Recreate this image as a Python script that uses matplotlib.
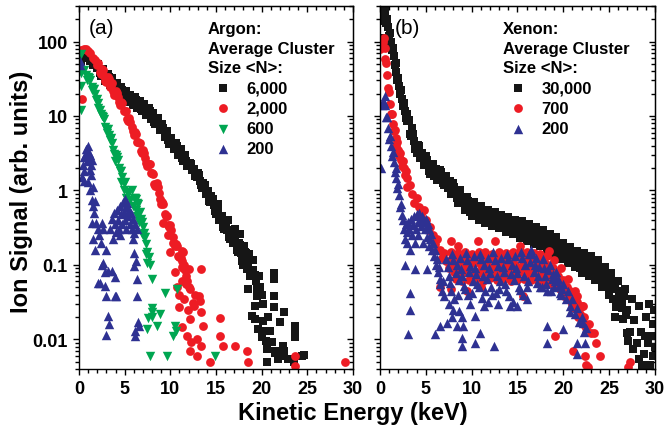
import matplotlib
matplotlib.use("Agg")
import matplotlib.pyplot as plt
from matplotlib.ticker import MultipleLocator, FixedLocator, FixedFormatter, LogLocator, NullFormatter

plt.rcParams["font.family"] = ["Liberation Sans", "DejaVu Sans"]
plt.rcParams["font.weight"] = "bold"

# ---------------- panel (a): argon ----------------
ar6000_x = [0.25, 0.5, 0.75, 1.0, 1.25, 1.5, 1.75, 2.0, 2.25, 2.5, 2.75, 3.0, 3.25, 3.5, 3.75, 4.0,
            4.25, 4.5, 4.75, 5.0, 5.25, 5.5, 5.75, 6.0, 6.25, 6.5, 6.75, 7.0, 7.25, 7.5, 7.75, 8.0,
            8.25, 8.5, 8.75, 9.0, 9.25, 9.5, 9.75, 10.0, 10.25, 10.5, 10.75, 11.0, 11.25, 11.5, 11.75,
            12.0, 12.25, 12.5, 12.75, 13.0, 13.25, 13.5, 13.75, 14.0, 14.25, 14.5, 14.75, 15.0, 15.25,
            15.5, 15.75, 16.0, 16.25, 16.5, 16.75, 17.0, 17.25, 17.5, 17.75, 18.0, 18.25, 18.5, 18.75,
            19.0, 19.25, 19.5, 19.75, 20.0,
            15.2, 16.3, 17.1, 17.6, 18.1, 18.6, 19.1, 19.4, 19.8, 20.2, 18.5, 18.9, 19.3, 19.5, 19.3,
            19.6, 20.0, 20.2, 20.27, 20.5, 20.55, 20.55, 21.1, 21.5, 21.5, 21.8, 21.36, 21.36, 21.36,
            21.36, 22.4, 22.0, 23.66, 23.66, 23.66, 22.4, 22.0, 22.2, 23.5, 24.4, 24.6, 22.3, 22.2,
            22.9, 20.7, 20.9]
ar6000_y = [55, 62, 60, 62, 55, 49, 52, 44.7, 38, 41.7, 35.5, 30, 33.9, 28.8, 24.5, 27.5,
            23.4, 20, 22.4, 19.5, 16.6, 18.6, 16.4, 14.5, 16.6, 14.5, 12.5, 14.1, 12.3, 10.6, 11.7, 10,
            8.4, 9.3, 7.8, 6.5, 7.0, 5.75, 4.7, 5.0, 4.3, 3.6, 4.0, 3.3, 2.75, 3.0, 2.5,
            2.1, 2.3, 1.9, 1.55, 1.74, 1.36, 1.07, 1.19, 0.93, 0.73, 0.83, 0.64, 0.49, 0.56,
            0.43, 0.32, 0.37, 0.29, 0.22, 0.28, 0.22, 0.16, 0.2, 0.145, 0.1, 0.145, 0.105, 0.072,
            0.115, 0.074, 0.048, 0.07, 0.04,
            0.65, 0.4, 0.3, 0.26, 0.18, 0.14, 0.085, 0.06, 0.05, 0.03, 0.047, 0.0205, 0.028, 0.038, 0.0185,
            0.0136, 0.0107, 0.0177, 0.013, 0.0095, 0.0074, 0.0049, 0.0091, 0.0066, 0.007, 0.0054, 0.0785, 0.064, 0.038,
            0.027, 0.023, 0.017, 0.0151, 0.0129, 0.0106, 0.0069, 0.0063, 0.006, 0.005, 0.006, 0.0061, 0.0081, 0.0067,
            0.0054, 0.02, 0.013]
ar6000_fill_x = [2.125, 2.375, 2.625, 2.875, 3.125, 3.375, 3.625, 3.875, 4.125, 4.375, 4.625, 4.875,
                 5.125, 5.375, 5.625, 5.875, 6.125, 6.375, 6.625, 6.875, 7.125, 7.375, 7.625, 7.875,
                 8.125, 8.375, 8.625, 8.875, 9.125, 9.375, 9.625, 9.875, 10.125, 10.375, 10.625, 10.875,
                 11.125, 11.375, 11.625, 11.875,
                 12.125, 12.375, 12.625, 12.875, 13.125, 13.375, 13.625, 13.875, 14.125, 14.375, 14.625,
                 14.875, 15.125, 15.375, 15.625, 15.875, 16.125, 16.375, 16.625, 16.875, 17.125, 17.375,
                 17.625, 17.875, 18.125, 18.375, 18.625, 18.875]
ar6000_fill_y = [49.5, 34.7, 42.2, 29.9, 36.7, 26, 32, 22.6, 27.9, 19.7, 24.3, 17.4,
                 21.6, 15.3, 19.2, 14.0, 17.8, 12.9, 16.1, 11.6, 14.5, 10.4, 12.9, 9.0,
                 11.0, 7.7, 9.3, 6.5, 7.7, 5.3, 6.2, 4.2, 5.1, 3.57, 4.3, 3.0,
                 3.6, 2.5, 3.0, 2.1,
                 2.34, 1.86, 1.94, 1.52, 1.6, 1.17, 1.24, 0.9, 0.98, 0.69, 0.76,
                 0.53, 0.6, 0.4, 0.46, 0.3, 0.355, 0.234, 0.295, 0.195, 0.245, 0.148,
                 0.186, 0.112, 0.15, 0.087, 0.126, 0.072]

ar2000_x = [0.25, 0.5, 0.75, 1.0, 1.25, 1.5, 1.75, 2.0, 2.25, 2.5, 2.75, 3.0, 3.25, 3.5, 3.75, 4.0,
            4.25, 4.5, 4.75, 5.0, 5.25, 5.5, 5.75, 6.0, 6.25, 6.5, 6.75, 7.0, 7.25, 7.5, 7.75, 8.0,
            8.25, 8.5, 8.75, 9.0, 9.25, 9.5, 9.75, 10.0, 10.25, 10.5, 10.75, 11.0, 11.25, 11.5, 11.75, 12.0,
            0.1, 0.3, 9.06, 9.24, 10.3, 11.25, 11.4, 11.3, 12.0, 11.25, 11.7, 12.15, 10.9, 12.5, 12.55,
            13.1, 13.2, 13.4, 13.4, 12.15, 11.25, 11.8, 12.3, 12.9, 13.4, 12.15, 12.9, 14.35, 13.6, 15.4,
            15.4, 15.8, 17.1, 18.4, 18.5, 23.66, 23.66, 29.1, 11.0, 11.5, 12.7, 10.7, 11.9, 10.5, 10.0, 9.7]
ar2000_y = [76, 80, 80, 74, 70, 60, 57, 47.9, 39, 42.7, 34.7, 28.8, 31.6, 25.7, 21.4, 21.9,
            17.8, 14.1, 14.8, 11.5, 9.1, 9.3, 7.2, 5.6, 5.75, 4.5, 3.4, 3.5, 2.75, 2.1, 2.24, 1.7,
            1.23, 1.26, 0.93, 0.65, 0.65, 0.46, 0.34, 0.34, 0.24, 0.178, 0.18, 0.126, 0.093, 0.1, 0.07, 0.05,
            45, 17, 0.68, 0.37, 0.2, 0.153, 0.15, 0.112, 0.087, 0.061, 0.055, 0.047, 0.027, 0.031, 0.028,
            0.038, 0.033, 0.087, 0.023, 0.0185, 0.0145, 0.011, 0.0091, 0.01, 0.0081, 0.007, 0.006, 0.0049, 0.015, 0.0195,
            0.011, 0.0081, 0.0081, 0.007, 0.0049, 0.006, 0.0044, 0.0049, 0.04, 0.035, 0.04, 0.05, 0.025, 0.08, 0.15, 0.25]
ar2000_fill_x = [2.125, 2.375, 2.625, 2.875, 3.125, 3.375, 3.625, 3.875,
                 4.125, 4.375, 4.625, 4.875, 5.125, 5.375, 5.625, 5.875, 6.125, 6.375, 6.625, 6.875,
                 7.125, 7.375, 7.625, 7.875, 8.125, 8.375, 8.625, 8.875, 9.125, 9.375, 9.625, 9.875,
                 10.125, 10.375, 10.625, 10.875, 11.125, 11.375, 11.625, 11.875]
ar2000_fill_y = [50.8, 36.3, 41.3, 29.5, 33.9, 24.3, 27.5, 19.3,
                 20.2, 15.5, 15.5, 11.6, 11.5, 8.6, 8.4, 6.2, 6.1, 4.5, 4.4, 3.2,
                 3.16, 2.37, 2.3, 1.72, 1.64, 1.16, 1.1, 0.77, 0.69, 0.48, 0.45, 0.32,
                 0.29, 0.2, 0.19, 0.132, 0.124, 0.091, 0.085, 0.06]

ar600_x = [0.25, 0.5, 0.75, 1.0, 1.25, 1.5, 1.75, 2.0, 2.25, 2.5, 2.75, 3.0, 3.25, 3.5, 3.75, 4.0,
           4.25, 4.5, 4.75, 5.0, 5.25, 5.5, 5.75, 6.0, 6.25, 6.5, 6.75, 7.0, 7.25, 7.5, 7.75, 8.0,
           0.25, 0.2, 0.2, 5.2, 5.6, 5.9, 6.2, 6.4, 6.6, 6.9, 7.1, 7.3, 7.4, 4.9, 4.6, 3.9, 3.1, 2.1,
           1.4, 0.9, 9.4, 10.7, 7.96, 7.96, 7.6, 8.87, 8.5, 7.4, 10.5, 10.3, 7.78, 9.6, 14.9, 8.0, 10.6]
ar600_y = [38, 42, 36, 33, 30, 23, 20, 17, 12, 10, 9.0, 6.6, 5.6, 5.0, 3.5, 2.95,
           2.6, 1.8, 1.5, 1.3, 0.95, 0.95, 1.0, 0.78, 0.76, 0.66, 0.42, 0.32, 0.24, 0.15, 0.1, 0.065,
           67, 25, 12.2, 0.8, 0.75, 0.62, 0.55, 0.45, 0.38, 0.26, 0.24, 0.14, 0.107, 1.0, 1.3, 2.5, 6.0, 13,
           22, 30, 0.042, 0.047, 0.0266, 0.023, 0.0195, 0.0218, 0.0151, 0.0136, 0.0151, 0.011, 0.006, 0.006, 0.006, 0.02, 0.013]
ar600_fill_x = [1.125, 1.375, 1.625, 1.875, 2.125, 2.375, 2.625, 2.875, 3.125, 3.375, 3.625, 3.875,
                4.125, 4.375, 4.625, 4.875, 6.125, 6.375, 6.625, 6.875, 7.125, 7.375, 7.625]
ar600_fill_y = [32.7, 24.3, 23.4, 16.6, 15.1, 10.5, 9.8, 7.1, 6.7, 4.7, 4.4, 3.1,
                2.85, 2.0, 1.82, 1.26, 0.8, 0.68, 0.52, 0.376, 0.266, 0.19, 0.126]

ar200_x = [0.1, 0.15, 0.3, 0.4, 0.5, 0.6, 0.7, 0.8, 0.9, 1.0, 1.05, 1.1, 1.15, 1.2, 1.3, 1.35, 1.45,
           0.5, 1.0, 1.5, 1.25, 1.45, 1.55, 1.75, 1.6, 1.4, 2.5, 1.9, 2.1, 2.6, 1.5, 2.2, 1.8, 2.4, 3.0,
           2.5, 2.66, 2.9, 3.2, 3.6, 2.1, 2.3, 2.85, 3.0, 3.94, 4.1, 3.94, 3.2, 3.25, 2.96,
           3.4, 3.6, 3.8, 3.9, 4.0, 4.2, 4.3, 4.4, 4.5, 4.6, 4.7, 4.8, 4.9, 5.0, 5.05, 5.1, 5.2, 5.3,
           5.4, 5.5, 5.6, 5.7, 5.8, 5.9, 6.0, 6.1, 6.3, 4.5, 3.7, 5.95, 6.0, 6.2, 6.0, 6.3, 6.3, 6.5,
           6.1, 6.1, 6.6]
ar200_y = [54, 49, 1.5, 2.2, 2.8, 1.8, 3.0, 3.6, 2.5, 4.0, 3.2, 2.6, 1.9, 3.0, 2.2, 1.6, 2.6,
           1.35, 1.3, 1.1, 1.0, 0.75, 0.62, 0.72, 0.5, 0.37, 0.37, 0.37, 0.3, 0.3, 0.22, 0.25, 0.16, 0.2, 0.16,
           0.1, 0.107, 0.08, 0.083, 0.083, 0.058, 0.058, 0.052, 0.038, 0.038, 0.038, 0.068, 0.0205, 0.016, 0.0113,
           0.3, 0.42, 0.5, 0.35, 0.28, 0.55, 0.4, 0.3, 0.62, 0.48, 0.35, 0.7, 0.52, 0.76, 0.4, 0.6, 0.3, 0.68,
           0.45, 0.55, 0.35, 0.5, 0.3, 0.42, 0.27, 0.35, 0.3, 0.25, 0.22, 0.22, 0.146, 0.112, 0.096, 0.064, 0.038, 0.017,
           0.013, 0.011, 0.015]

# ---------------- panel (b): xenon ----------------
xe30k_x = [0.1, 0.1, 0.2, 0.3, 0.4, 0.5, 0.6, 0.7, 0.8, 0.9, 1.0, 1.1, 1.2, 1.3, 1.4, 1.5, 1.6, 1.7,
           1.8, 1.9, 2.0, 2.1, 2.2, 2.3, 2.4, 2.5, 2.6, 2.7, 2.8, 2.9, 3.0,
           3.25, 3.5, 3.75, 4.0, 4.25, 4.5, 4.75, 5.0, 5.25, 5.5, 5.75, 6.0, 6.25, 6.5, 6.75, 7.0,
           7.25, 7.5, 7.75, 8.0, 8.25, 8.5, 8.75, 9.0, 9.25, 9.5, 9.75, 10.0, 10.25, 10.5, 10.75, 11.0,
           11.25, 11.5, 11.75, 12.0, 12.25, 12.5, 12.75, 13.0, 13.25, 13.5, 13.75, 14.0, 14.25, 14.5,
           14.75, 15.0, 15.25, 15.5, 15.75, 16.0, 16.25, 16.5, 16.75, 17.0, 17.25, 17.5, 17.75, 18.0,
           18.25, 18.5, 18.75, 19.0, 19.25, 19.5, 19.75, 20.0, 20.25, 20.5, 20.75, 21.0, 21.25, 21.5,
           21.75, 22.0, 22.25, 22.5, 22.75, 23.0, 23.25, 23.5, 23.75, 24.0, 24.25, 24.5, 24.75, 25.0,
           25.25, 25.5, 25.75, 26.0, 26.25, 26.5, 26.75, 27.0, 27.25, 27.5, 27.75, 28.0, 28.25, 28.5,
           28.75, 29.0, 29.25, 29.5, 29.75, 30.0,
           26.9, 27.6, 28.3, 28.9, 29.4, 29.8, 27.1, 28.6, 26.4, 25.6, 29.0, 29.9, 29.6]
xe30k_y = [112, 190, 240, 234, 214, 263, 219, 178, 200, 155, 117, 129, 100, 78, 83, 63, 48, 51,
           39, 30, 32, 25, 20, 22, 17, 13.5, 14.8, 11.7, 9.3, 10.5, 8.5,
           5.75, 6.8, 4.6, 3.16, 4.0, 2.95, 2.2, 2.9, 2.2, 1.66, 2.24, 1.74, 1.38, 1.9, 1.48, 1.17,
           1.55, 1.2, 0.91, 1.26, 0.93, 0.68, 1.0, 0.74, 0.55, 0.81, 0.6, 0.46, 0.69, 0.52, 0.40, 0.62,
           0.47, 0.36, 0.55, 0.43, 0.33, 0.51, 0.40, 0.31, 0.47, 0.36, 0.28, 0.44, 0.33, 0.26,
           0.40, 0.31, 0.23, 0.39, 0.29, 0.21, 0.355, 0.26, 0.19, 0.32, 0.24, 0.178, 0.295, 0.22,
           0.158, 0.26, 0.19, 0.138, 0.234, 0.17, 0.12, 0.2, 0.145, 0.105, 0.174, 0.126, 0.093, 0.155,
           0.112, 0.079, 0.145, 0.102, 0.071, 0.132, 0.091, 0.062, 0.115, 0.076, 0.05, 0.095, 0.063, 0.039,
           0.079, 0.048, 0.027, 0.06, 0.035, 0.019, 0.047, 0.025, 0.0126, 0.035, 0.018, 0.0089, 0.028, 0.0126,
           0.0063, 0.02, 0.0089, 0.0045, 0.016, 0.008,
           0.012, 0.0075, 0.0055, 0.011, 0.03, 0.006, 0.0095, 0.0045, 0.03, 0.02, 0.0042, 0.025, 0.011]
xe30k_fill_x = [3.125, 3.375, 3.625, 3.875, 4.125, 4.375, 4.625, 4.875, 5.125, 5.375, 5.625, 5.875,
                6.125, 6.375, 6.625, 6.875, 7.125, 7.375, 7.625, 7.875, 8.125, 8.375, 8.625, 8.875,
                9.125, 9.375, 9.625, 9.875, 10.125, 10.375, 10.625, 10.875, 11.125, 11.375, 11.625, 11.875,
                12.125, 12.375, 12.625, 12.875, 13.125, 13.375, 13.625, 13.875, 14.125, 14.375, 14.625, 14.875,
                15.125, 15.375, 15.625, 15.875, 16.125, 16.375, 16.625, 16.875, 17.125, 17.375, 17.625, 17.875,
                18.125, 18.375, 18.625, 18.875, 19.125, 19.375, 19.625, 19.875, 20.125, 20.375, 20.625, 20.875,
                21.125, 21.375, 21.625, 21.875, 22.125, 22.375, 22.625, 22.875, 23.125, 23.375, 23.625, 23.875,
                24.125, 24.375, 24.625, 24.875, 25.125, 25.375, 25.625, 25.875, 26.125, 26.375, 26.625, 26.875]
xe30k_fill_y = [8.8, 5.4, 5.8, 3.6, 4.1, 2.7, 3.2, 2.2, 2.6, 1.82, 2.2, 1.57,
                1.95, 1.41, 1.76, 1.26, 1.55, 1.08, 1.32, 0.91, 1.11, 0.78, 0.94, 0.67,
                0.82, 0.58, 0.72, 0.51, 0.65, 0.47, 0.59, 0.43, 0.55, 0.40, 0.51, 0.376,
                0.48, 0.36, 0.46, 0.34, 0.44, 0.32, 0.41, 0.305, 0.39, 0.285, 0.37, 0.27,
                0.36, 0.254, 0.34, 0.243, 0.32, 0.226, 0.30, 0.21, 0.285, 0.2, 0.27, 0.188,
                0.25, 0.174, 0.23, 0.158, 0.21, 0.148, 0.193, 0.132, 0.174, 0.12, 0.158, 0.11,
                0.15, 0.1, 0.138, 0.092, 0.129, 0.086, 0.12, 0.08, 0.112, 0.074, 0.101, 0.065,
                0.088, 0.058, 0.079, 0.051, 0.071, 0.035, 0.057, 0.032, 0.044, 0.026, 0.038, 0.021]

xe700_x = [0.05, 0.1, 0.2, 0.3, 0.4, 0.5, 0.6, 0.7, 0.8, 0.9, 1.0, 1.1, 1.2, 1.3, 1.4, 1.5, 1.6, 1.7,
           1.8, 1.9, 2.0, 2.1, 2.2, 2.3, 2.4, 2.5, 2.6, 2.7, 2.8, 2.9, 3.0,
           3.25, 3.5, 3.75, 4.0, 4.25, 4.5, 4.75, 5.0, 5.25, 5.5, 5.75, 6.0, 6.25, 6.5, 6.75, 7.0,
           7.25, 7.5, 7.75, 8.0, 8.25, 8.5, 8.75, 9.0, 9.25, 9.5, 9.75, 10.0, 10.25, 10.5, 10.75, 11.0,
           11.25, 11.5, 11.75, 12.0, 12.25, 12.5, 12.75, 13.0, 13.25, 13.5, 13.75, 14.0, 14.25, 14.5,
           14.75, 15.0, 15.25, 15.5, 15.75, 16.0, 16.25, 16.5, 16.75, 17.0, 17.25, 17.5, 17.75, 18.0,
           18.25, 18.5, 18.75, 19.0, 19.25, 19.5, 19.75, 20.0, 20.25, 20.5, 20.75, 21.0, 21.25, 21.5,
           21.75, 22.0, 22.25, 22.5, 22.75, 23.0,
           7.8, 10.7, 12.5, 15.3, 18.4, 8.5, 15.6, 7.7, 11.0, 19.1, 21.1, 22.5, 24.0, 23.6, 23.3, 22.2,
           21.5, 6.5, 9.5, 22.4, 22.7, 27.3, 27.1]
xe700_y = [79, 105, 105, 98, 110, 83, 58, 51, 35, 24, 21, 14.5, 10.5, 10.5, 7.9, 6.2, 6.5, 5.1,
           4.0, 4.5, 3.5, 2.9, 3.2, 2.6, 2.1, 2.45, 2.0, 1.6, 1.8, 1.45, 1.12,
           1.2, 0.89, 0.68, 0.78, 0.6, 0.48, 0.54, 0.4, 0.29, 0.32, 0.25, 0.19, 0.22, 0.16, 0.123, 0.145,
           0.112, 0.091, 0.15, 0.098, 0.065, 0.145, 0.1, 0.06, 0.15, 0.095, 0.062, 0.14, 0.105, 0.065, 0.15, 0.1,
           0.06, 0.148, 0.098, 0.066, 0.142, 0.1, 0.062, 0.15, 0.097, 0.064, 0.145, 0.1, 0.06, 0.15,
           0.1, 0.063, 0.155, 0.098, 0.065, 0.15, 0.1, 0.062, 0.145, 0.095, 0.06, 0.14, 0.095, 0.058,
           0.13, 0.088, 0.055, 0.115, 0.08, 0.05, 0.09, 0.062, 0.04, 0.065, 0.045, 0.03, 0.045, 0.032,
           0.022, 0.028, 0.02, 0.014, 0.016, 0.012,
           0.21, 0.21, 0.21, 0.18, 0.153, 0.18, 0.038, 0.047, 0.05, 0.011, 0.007, 0.0045, 0.006, 0.009, 0.012, 0.028,
           0.038, 0.05, 0.045, 0.006, 0.0042, 0.0049, 0.0042]
xe700_fill_x = [7.875, 8.125, 8.375, 8.625, 8.875, 9.125, 9.375, 9.625, 9.875, 10.125, 10.375, 10.625,
                10.875, 11.125, 11.375, 11.625, 11.875, 12.125, 12.375, 12.625, 12.875, 13.125, 13.375, 13.625,
                13.875, 14.125, 14.375, 14.625, 14.875, 15.125, 15.375, 15.625, 15.875, 16.125, 16.375, 16.625,
                16.875, 17.125, 17.375, 17.625, 17.875, 18.125, 18.375, 18.625, 18.875, 19.125, 19.375, 19.625,
                19.875, 20.125, 20.375, 20.625, 20.875, 21.125, 21.375, 21.625, 21.875, 22.125]
xe700_fill_y = [0.125, 0.08, 0.12, 0.078, 0.128, 0.08, 0.12, 0.082, 0.125, 0.078, 0.13, 0.08,
                0.122, 0.079, 0.125, 0.08, 0.12, 0.082, 0.127, 0.078, 0.12, 0.08, 0.125, 0.08,
                0.13, 0.078, 0.122, 0.08, 0.128, 0.082, 0.125, 0.08, 0.12, 0.078, 0.125, 0.08,
                0.118, 0.076, 0.112, 0.072, 0.108, 0.07, 0.1, 0.068, 0.09, 0.062, 0.07, 0.047,
                0.055, 0.038, 0.05, 0.035, 0.036, 0.026, 0.028, 0.02, 0.022, 0.016]

xe200_x = [0.1, 0.2, 0.3, 0.4, 0.5, 0.6, 0.7, 0.8, 0.9, 1.0, 1.1, 1.2, 1.3, 1.4, 1.5, 1.6, 1.7, 1.8,
           1.9, 2.0, 2.1, 2.2, 2.3, 2.4,
           2.5, 2.6, 2.7, 2.8, 2.9, 3.0, 3.1, 3.2, 3.3, 3.4, 3.5, 3.6, 3.7, 3.8, 3.9, 4.0, 4.1, 4.2,
           4.3, 4.4, 4.5, 4.6, 4.7, 4.8, 4.9, 5.0, 5.1, 5.2, 5.3, 5.4, 5.5, 5.6, 5.7, 5.8, 5.9, 6.0,
           6.1, 6.2, 6.3, 6.4, 6.5, 6.6, 6.8, 6.9, 7.0, 2.7, 3.8, 5.1, 3.27, 3.27, 3.1, 6.0, 6.55, 7.27,
           7.25, 7.5, 7.75, 8.0, 8.25, 8.5, 8.75, 9.0, 9.25, 9.5, 9.75, 10.0, 10.25, 10.5, 10.75, 11.0,
           11.25, 11.5, 11.75, 12.0, 12.25, 12.5, 12.75, 13.0, 13.25, 13.5, 13.75, 14.0, 14.25, 14.5,
           14.75, 15.0, 15.25, 15.5, 15.75, 16.0, 16.25, 16.5, 16.75, 17.0, 17.25, 17.5, 17.75, 18.0,
           18.25, 18.5, 18.75, 19.0, 19.25, 19.5, 19.75, 20.0, 20.25, 20.5, 20.75, 21.0, 21.25, 21.5,
           21.75, 22.0, 22.25, 22.5,
           8.36, 9.1, 8.9, 8.9, 10.4, 10.9, 12.4, 10.4, 18.2, 18.2, 20.0, 21.5, 21.5, 22.4, 22.2, 20.7,
           14.9, 14.2, 11.8, 9.8, 7.5, 8.0, 12.9, 16.0, 9.0, 7.9, 11.3, 8.6]
xe200_y = [2.0, 14, 15.8, 15, 18.6, 14, 9.8, 9.8, 6.8, 4.9, 5.4, 4.0, 2.9, 3.3, 2.4, 1.78, 2.0, 1.48,
           1.07, 1.23, 0.87, 0.6, 0.66, 0.47,
           0.4, 0.3, 0.22, 0.35, 0.28, 0.2, 0.38, 0.3, 0.16, 0.42, 0.25, 0.34, 0.45, 0.2, 0.3, 0.48, 0.38, 0.25,
           0.5, 0.42, 0.33, 0.46, 0.2, 0.38, 0.3, 0.42, 0.24, 0.35, 0.18, 0.3, 0.22, 0.26, 0.16, 0.2, 0.13, 0.16,
           0.1, 0.12, 0.08, 0.095, 0.065, 0.055, 0.045, 0.06, 0.038, 0.1, 0.087, 0.087, 0.042, 0.025, 0.0117, 0.0117, 0.015, 0.0167,
           0.12, 0.07, 0.045, 0.115, 0.078, 0.04, 0.125, 0.072, 0.048, 0.118, 0.08, 0.042, 0.13, 0.075, 0.05, 0.12,
           0.07, 0.045, 0.125, 0.078, 0.04, 0.118, 0.072, 0.048, 0.125, 0.08, 0.044, 0.12, 0.075, 0.032,
           0.13, 0.078, 0.046, 0.125, 0.07, 0.05, 0.14, 0.16, 0.08, 0.125, 0.07, 0.05, 0.12, 0.07,
           0.045, 0.1, 0.065, 0.05, 0.08, 0.052, 0.04, 0.055, 0.035, 0.045, 0.028, 0.035, 0.022, 0.026,
           0.017, 0.02, 0.0125, 0.014,
           0.015, 0.015, 0.0105, 0.0081, 0.009, 0.0123, 0.0081, 0.0205, 0.015, 0.009, 0.0137, 0.009, 0.0063, 0.009, 0.0167, 0.023,
           0.028, 0.028, 0.032, 0.03, 0.03, 0.025, 0.03, 0.035, 0.02, 0.02, 0.028, 0.024]
xe200_fill_x = [7.375, 7.625, 7.875, 8.125, 8.375, 8.625, 8.875, 9.125, 9.375, 9.625, 9.875, 10.125,
                10.375, 10.625, 10.875, 11.125, 11.375, 11.625, 11.875, 12.125, 12.375, 12.625, 12.875, 13.125,
                13.375, 13.625, 13.875, 14.125, 14.375, 14.625, 14.875, 15.125, 15.375, 15.625, 15.875, 16.125,
                16.375, 16.625, 16.875, 17.125, 17.375, 17.625, 17.875, 18.125, 18.375, 18.625, 18.875, 19.125,
                19.375, 19.625, 19.875]
xe200_fill_y = [0.095, 0.058, 0.14, 0.035, 0.1, 0.062, 0.088, 0.052, 0.145, 0.04, 0.098, 0.06,
                0.092, 0.055, 0.14, 0.036, 0.1, 0.064, 0.09, 0.05, 0.15, 0.042, 0.097, 0.06,
                0.093, 0.056, 0.142, 0.038, 0.1, 0.062, 0.09, 0.05, 0.15, 0.04, 0.1, 0.06,
                0.11, 0.14, 0.1, 0.058, 0.095, 0.05, 0.09, 0.055, 0.085, 0.045, 0.075, 0.06,
                0.065, 0.042, 0.048]

yticks = [0.01, 0.1, 1, 10, 100]
ytick_labels = ["0.01", "0.1", "1", "10", "100"]

c_black = "#161616"
c_red = "#ed1c24"
c_green = "#00a651"
c_blue = "#2e3192"


def style_axes(ax, show_ylabels):
    ax.set_yscale("log")
    ax.set_xlim(0, 30)
    ax.set_ylim(0.004, 300)
    ax.xaxis.set_major_locator(MultipleLocator(5))
    ax.xaxis.set_minor_locator(MultipleLocator(1))
    ax.yaxis.set_major_locator(FixedLocator(yticks))
    ax.yaxis.set_major_formatter(FixedFormatter(ytick_labels))
    ax.yaxis.set_minor_locator(LogLocator(base=10, subs=[2, 3, 4, 5, 6, 7, 8, 9]))
    ax.yaxis.set_minor_formatter(NullFormatter())
    ax.tick_params(which="both", direction="out", top=False, right=False, width=1, labelsize=13)
    ax.tick_params(which="major", length=4.5)
    ax.tick_params(which="minor", length=3)
    if not show_ylabels:
        ax.tick_params(labelleft=False)
    for s in ax.spines.values():
        s.set_linewidth(1)

    top = ax.secondary_xaxis("top")
    top.xaxis.set_major_locator(MultipleLocator(5))
    top.xaxis.set_minor_locator(MultipleLocator(1))
    top.tick_params(which="both", direction="in", labeltop=False, width=1)
    top.tick_params(which="major", length=4.5)
    top.tick_params(which="minor", length=3)

    right = ax.secondary_yaxis("right")
    right.yaxis.set_major_locator(FixedLocator(yticks))
    right.yaxis.set_minor_locator(LogLocator(base=10, subs=[2, 3, 4, 5, 6, 7, 8, 9]))
    right.yaxis.set_minor_formatter(NullFormatter())
    right.tick_params(which="both", direction="in", labelright=False, width=1)
    right.tick_params(which="major", length=4.5)
    right.tick_params(which="minor", length=3)


def add_legend(ax, title, x0):
    leg = ax.legend(title=title, loc="upper left", bbox_to_anchor=(x0, 0.958), frameon=False,
                    alignment="left", prop={"weight": "bold", "size": 12},
                    title_fontproperties={"weight": "bold", "size": 12},
                    handlelength=1.8, handletextpad=0.5, labelspacing=0.32,
                    borderpad=0, borderaxespad=0, scatterpoints=1)
    leg.get_title().set_linespacing(1.37)


fig = plt.figure(figsize=(6.65, 4.35), dpi=100)
ax1 = fig.add_axes([0.1188, 0.1494, 0.412, 0.8345])
ax2 = fig.add_axes([0.5714, 0.1494, 0.4135, 0.8345])

sq, ci, tr = 34, 40, 46

ax1.scatter(ar6000_x + ar6000_fill_x, ar6000_y + ar6000_fill_y, marker="s", s=sq, color=c_black,
            linewidths=0, label="6,000")
ax1.scatter(ar2000_x + ar2000_fill_x, ar2000_y + ar2000_fill_y, marker="o", s=ci, color=c_red,
            linewidths=0, label="2,000")
ax1.scatter(ar600_x + ar600_fill_x, ar600_y + ar600_fill_y, marker="v", s=tr, color=c_green,
            linewidths=0, label="600")
ax1.scatter(ar200_x, ar200_y, marker="^", s=tr, color=c_blue, linewidths=0, label="200")

ax2.scatter(xe30k_x + xe30k_fill_x, xe30k_y + xe30k_fill_y, marker="s", s=sq, color=c_black,
            linewidths=0, label="30,000")
ax2.scatter(xe700_x + xe700_fill_x, xe700_y + xe700_fill_y, marker="o", s=ci, color=c_red,
            linewidths=0, label="700")
ax2.scatter(xe200_x + xe200_fill_x, xe200_y + xe200_fill_y, marker="^", s=tr, color=c_blue,
            linewidths=0, label="200")

style_axes(ax1, True)
style_axes(ax2, False)

add_legend(ax1, "Argon:\nAverage Cluster\nSize <N>:", 0.47)
add_legend(ax2, "Xenon:\nAverage Cluster\nSize <N>:", 0.447)

ax1.text(0.036, 0.94, "(a)", transform=ax1.transAxes, fontsize=15, fontweight="normal", va="center", ha="left")
ax2.text(0.055, 0.94, "(b)", transform=ax2.transAxes, fontsize=15, fontweight="normal", va="center", ha="left")

fig.text(0.531, 0.05, "Kinetic Energy (keV)", fontsize=17, ha="center", va="center")
fig.text(0.033, 0.559, "Ion Signal (arb. units)", fontsize=17, rotation=90, ha="center", va="center")

fig.savefig("out.png", dpi=100)
